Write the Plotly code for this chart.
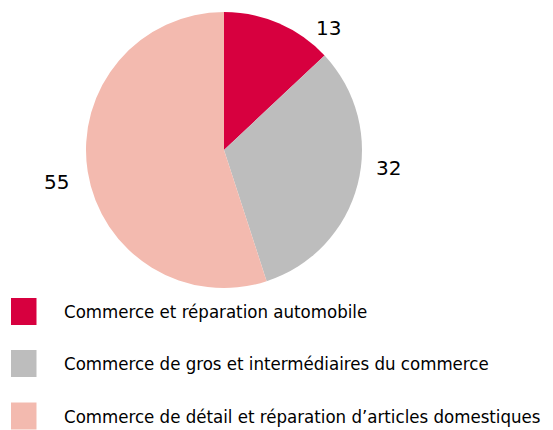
import plotly.graph_objects as go

labels = ["Commerce et réparation automobile",
          "Commerce de gros et intermédiaires du commerce",
          "Commerce de détail et réparation d’articles domestiques"]
values = [13, 32, 55]
colors = ["#D7003F", "#BDBDBD", "#F3BAAF"]

# page body has an 8px margin; lay the figure out in its own pixel frame
W, H = 545, 422
OFF = 8

def px(x):
    return (x - OFF) / W

def py(y):
    return (H - (y - OFF)) / H

fig = go.Figure(go.Pie(
    labels=labels, values=values, sort=False, direction="clockwise", rotation=0,
    marker=dict(colors=colors, line=dict(width=0)),
    textinfo="none",
    domain=dict(x=[px(86), px(362)], y=[py(288), py(12)]),
    showlegend=False, hoverinfo="label+value",
))

label_pos = [(328, 28), (388, 168), (56, 182)]
shapes = []
annotations = []
for v, (lx, ly) in zip(values, label_pos):
    annotations.append(dict(text=str(v), xref="paper", yref="paper",
                            x=px(lx), y=py(ly), xanchor="center", yanchor="middle",
                            showarrow=False,
                            font=dict(family="DejaVu Sans", size=20, color="#000000")))

row_y = [311.5, 363.5, 416]
for lab, col, yc in zip(labels, colors, row_y):
    shapes.append(dict(type="rect", xref="paper", yref="paper",
                       x0=px(11), x1=px(36.5), y0=py(yc + 13.5), y1=py(yc - 13.5),
                       fillcolor=col, line=dict(width=0)))
    annotations.append(dict(text=lab, xref="paper", yref="paper",
                            x=px(62), y=py(yc), xanchor="left", yanchor="middle",
                            showarrow=False,
                            font=dict(family="DejaVu Sans Condensed", size=18.5, color="#000000")))

fig.update_layout(width=W, height=H, margin=dict(l=0, r=0, t=0, b=0),
                  paper_bgcolor="white", plot_bgcolor="white",
                  shapes=shapes, annotations=annotations)
fig.write_html("out.html")
